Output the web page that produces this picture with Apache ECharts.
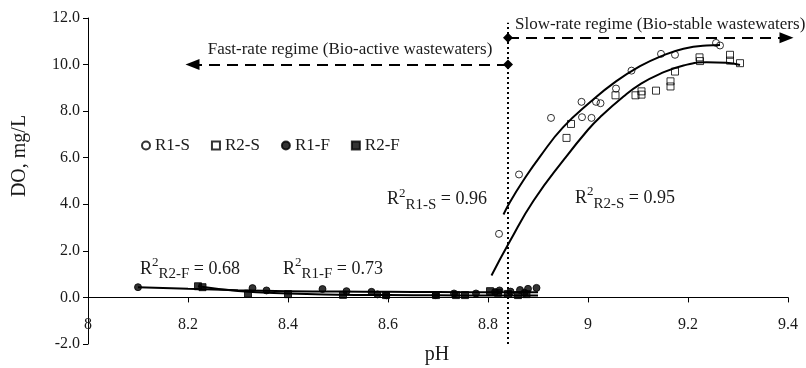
<!DOCTYPE html>
<html>
<head>
<meta charset="utf-8">
<script src="https://cdn.jsdelivr.net/npm/echarts@6/dist/echarts.min.js"></script>
<style>
html,body{margin:0;padding:0;background:#fff;}
#c{width:806px;height:368px;}
</style>
</head>
<body>
<div id="c"></div>
<script>
// ---------- data (pH, DO mg/L) ----------
const r1S = [[8.822,2.73],[8.862,5.28],[8.926,7.71],[8.987,8.40],[8.988,7.74],[9.007,7.71],[9.016,8.40],[9.025,8.34],[9.056,8.97],[9.087,9.74],[9.146,10.46],[9.174,10.42],[9.256,10.93],[9.264,10.82]];
const r2S = [[8.957,6.85],[8.966,7.45],[9.055,8.68],[9.095,8.68],[9.107,8.85],[9.107,8.71],[9.136,8.88],[9.165,9.06],[9.165,9.28],[9.174,9.70],[9.223,10.31],[9.224,10.15],[9.284,10.42],[9.284,10.17],[9.304,10.06]];
const r1F = [[8.10,0.44],[8.329,0.40],[8.357,0.30],[8.469,0.36],[8.517,0.27],[8.567,0.24],[8.579,0.13],[8.597,0.09],[8.695,0.10],[8.732,0.17],[8.776,0.17],[8.814,0.23],[8.823,0.30],[8.845,0.25],[8.864,0.32],[8.873,0.20],[8.88,0.37],[8.897,0.41]];
const r2F = [[8.22,0.48],[8.229,0.44],[8.32,0.16],[8.40,0.14],[8.51,0.11],[8.596,0.10],[8.696,0.10],[8.736,0.10],[8.754,0.10],[8.804,0.27],[8.82,0.20],[8.84,0.15],[8.86,0.10],[8.877,0.14]];
// trend lines
const fitR1S = [[8.831,3.56],[8.844,4.1],[8.87,5.0],[8.904,6.05],[8.95,7.3],[9.004,8.38],[9.056,9.28],[9.104,9.93],[9.144,10.34],[9.191,10.68],[9.237,10.82],[9.264,10.84]];
const fitR2S = [[8.807,0.94],[8.844,2.42],[8.891,4.15],[8.954,5.98],[9.0,7.2],[9.024,7.74],[9.071,8.63],[9.104,9.15],[9.144,9.6],[9.191,9.96],[9.237,10.1],[9.277,10.08],[9.304,9.98]];
const fitR1F = [[8.10,0.44],[8.2,0.37],[8.3,0.31],[8.4,0.27],[8.5,0.25],[8.6,0.24],[8.7,0.23],[8.8,0.22],[8.9,0.22]];
const fitR2F = [[8.22,0.48],[8.3,0.28],[8.4,0.17],[8.5,0.12],[8.6,0.10],[8.7,0.09],[8.8,0.08],[8.9,0.08]];
// regime boundary and arrows
const fastArrow = [[8.84,10.0],[8.209,10.0]];
const slowArrow = [[8.84,11.15],[9.397,11.15]];
const boundaryLine = [[8.84,-2],[8.84,11.8]];
// axes
const xRange = [8, 9.4], xStep = 0.2;
const yRange = [-2, 12], yStep = 2;
// annotations: [pH, DO, text key]
const notes = [
  [8.598, 4.2, 'r1s'],
  [8.974, 4.25, 'r2s'],
  [8.104, 1.22, 'r2f'],
  [8.39, 1.22, 'r1f'],
  [8.524, 10.64, 'fast'],
  [8.854, 11.72, 'slow']
];
const noteText = {
  r1s: '{r|R}{sup|2}{sub|R1-S}{r| = 0.96}',
  r2s: '{r|R}{sup|2}{sub|R2-S}{r| = 0.95}',
  r2f: '{r|R}{sup|2}{sub|R2-F}{r| = 0.68}',
  r1f: '{r|R}{sup|2}{sub|R1-F}{r| = 0.73}',
  fast: 'Fast-rate regime (Bio-active wastewaters)',
  slow: 'Slow-rate regime (Bio-stable wastewaters)'
};

const FONT = '"Liberation Serif", "Times New Roman", serif';
const INK = '#1a1a1a';
const rich = {
  r:{fontFamily:FONT,fontSize:18,color:INK,lineHeight:26,verticalAlign:'middle'},
  sup:{fontFamily:FONT,fontSize:13,color:INK,lineHeight:26,verticalAlign:'top'},
  sub:{fontFamily:FONT,fontSize:15,color:INK,lineHeight:26,verticalAlign:'bottom'}
};

const chart = echarts.init(document.getElementById('c'), null, {renderer:'canvas'});

function scatter(name, data, symbol, filled){
  return {
    name, type:'scatter', data, symbol, symbolSize:7,
    itemStyle:{color: filled ? '#000' : 'rgba(255,255,255,0)', borderColor:'#000', borderWidth:1},
    z:3
  };
}
function fit(data){
  return {type:'line', data, smooth:true, showSymbol:false, silent:true,
    lineStyle:{color:'#000', width:2}, z:2};
}

const option = {
  animation:false,
  backgroundColor:'#fff',
  grid:{left:88,right:18,top:18,bottom:24,containLabel:false,outerBoundsMode:'none'},
  legend:{
    data:['R1-S','R2-S','R1-F','R2-F'],
    left:136, top:132, itemGap:21, itemWidth:8, itemHeight:8,
    textStyle:{fontFamily:FONT,fontSize:17,color:INK}
  },
  xAxis:{
    type:'value', min:xRange[0], max:xRange[1], interval:xStep,
    axisLine:{onZero:true, lineStyle:{color:'#000',width:1}},
    axisTick:{show:true,length:5,lineStyle:{color:'#000'}},
    axisLabel:{margin:-27, fontFamily:FONT, fontSize:16, color:INK},
    splitLine:{show:false}
  },
  yAxis:{
    type:'value', min:yRange[0], max:yRange[1], interval:yStep,
    axisLine:{show:true, lineStyle:{color:'#000',width:1}},
    axisTick:{show:true,length:5,lineStyle:{color:'#000'}},
    axisLabel:{margin:8, fontFamily:FONT, fontSize:16, color:INK, formatter:v=>v.toFixed(1)},
    splitLine:{show:false}
  },
  graphic:[
    {type:'text', x:20, y:156, rotation:Math.PI/2,
      style:{text:'DO, mg/L', font:'20px '+FONT, fill:INK, align:'center', verticalAlign:'middle'}},
    {type:'text', x:437, y:355,
      style:{text:'pH', font:'20px '+FONT, fill:INK, align:'center', verticalAlign:'middle'}}
  ],
  series:[
    fit(fitR1F), fit(fitR2F),
    fit(fitR1S), fit(fitR2S),
    scatter('R1-S', r1S, 'circle', false),
    scatter('R2-S', r2S, 'rect', false),
    scatter('R1-F', r1F, 'circle', true),
    scatter('R2-F', r2F, 'rect', true),
    {
      type:'line', data:[], silent:true,
      markLine:{
        silent:true, animation:false,
        label:{show:false},
        data:[
          [{coord:boundaryLine[0], symbol:'none', lineStyle:{type:[2,3],width:2,color:'#000'}},
           {coord:boundaryLine[1], symbol:'none'}],
          [{coord:fastArrow[0], symbol:'diamond', symbolSize:10, lineStyle:{type:[11,7],width:2,color:'#000'}},
           {coord:fastArrow[1], symbol:'triangle', symbolSize:[11,14]}],
          [{coord:slowArrow[0], symbol:'diamond', symbolSize:10, lineStyle:{type:[11,7],width:2,color:'#000'}},
           {coord:slowArrow[1], symbol:'triangle', symbolSize:[11,14]}]
        ],
        itemStyle:{color:'#000'}
      }
    },
    {
      type:'custom', silent:true, data:notes, z:5,
      renderItem:function(params, api){
        const p = api.coord([api.value(0), api.value(1)]);
        const key = notes[params.dataIndex][2];
        return {
          type:'text', x:p[0], y:p[1],
          style:{
            text: noteText[key],
            rich: rich,
            font: '17px '+FONT,
            fill: INK,
            align: key==='fast' ? 'center' : 'left',
            verticalAlign:'middle'
          }
        };
      }
    }
  ]
};
chart.setOption(option);
</script>
</body>
</html>
